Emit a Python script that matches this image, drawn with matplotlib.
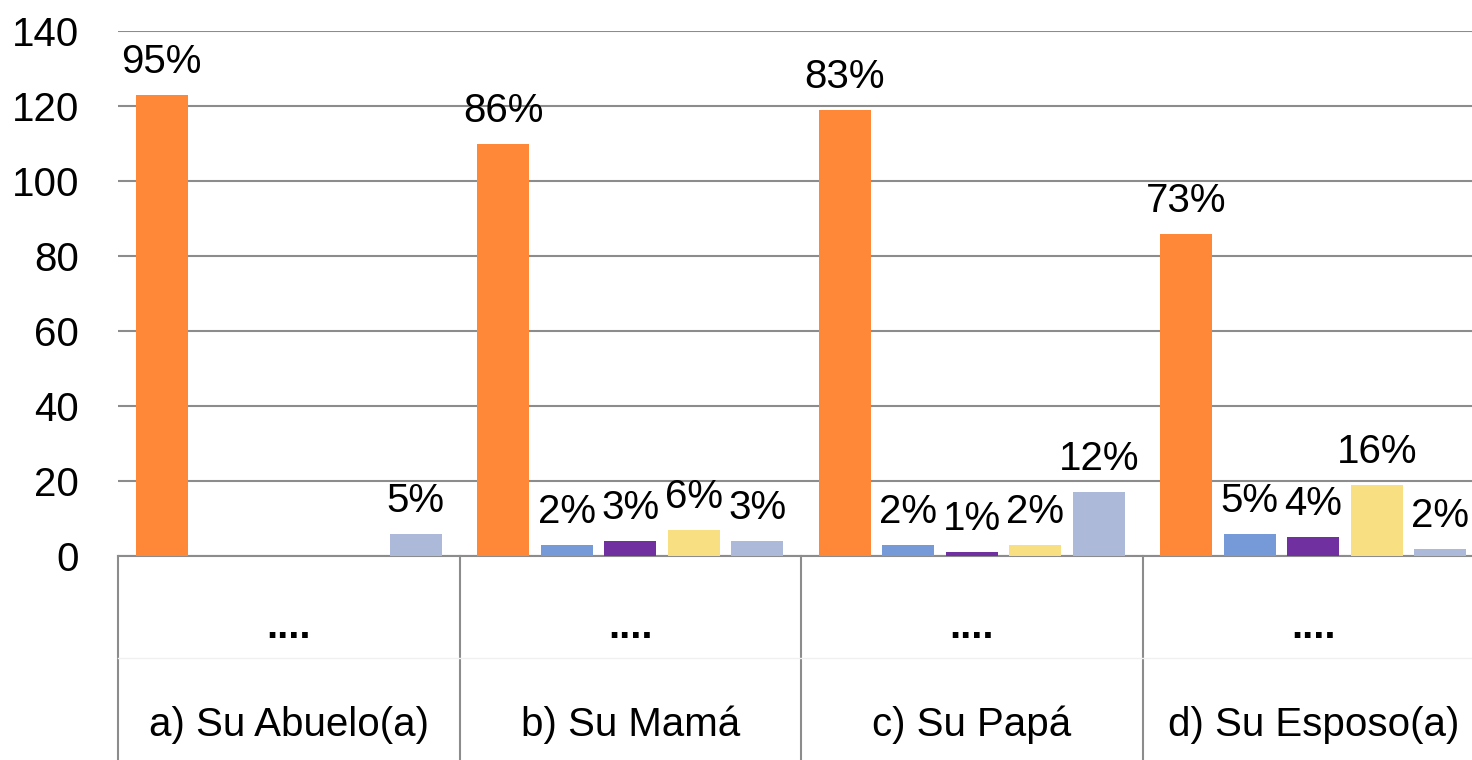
import numpy as np
import matplotlib
matplotlib.use('Agg')
import matplotlib.pyplot as plt

plt.rcParams['font.family'] = ['Liberation Sans', 'DejaVu Sans']

# data: counts per group and the printed percentage labels
groups = ['a) Su Abuelo(a)', 'b) Su Mamá', 'c) Su Papá', 'd) Su Esposo(a)']
sublabel = '....'
s_orange = [123, 110, 119, 86]
s_blue = [0, 3, 3, 6]
s_purple = [0, 4, 1, 5]
s_yellow = [0, 7, 3, 19]
s_grey = [6, 4, 17, 2]
pct_orange = ['95%', '86%', '83%', '73%']
pct_blue = ['', '2%', '2%', '5%']
pct_purple = ['', '3%', '1%', '4%']
pct_yellow = ['', '6%', '2%', '16%']
pct_grey = ['5%', '3%', '12%', '2%']

series = [s_orange, s_blue, s_purple, s_yellow, s_grey]
labels = [pct_orange, pct_blue, pct_purple, pct_yellow, pct_grey]
colors = ['#FF8838', '#7699D8', '#7030A0', '#F8DF82', '#ADB9D8']
FS = 29

fig = plt.figure(figsize=(14.72, 7.6), dpi=100)
ax = fig.add_axes([118/1472, 204/760, 1366/1472, 525/760])

x = np.arange(len(groups))
step, width = 0.186, 0.152
for k, (vals, labs, c) in enumerate(zip(series, labels, colors)):
    pos = x + (k - 2) * step
    bars = ax.bar(pos, vals, width=width, color=c, zorder=3)
    for b, v, t in zip(bars, vals, labs):
        if t:
            ax.annotate(t, (b.get_x() + b.get_width() / 2, v), xytext=(0, 10),
                        textcoords='offset points', ha='center', va='bottom',
                        fontsize=FS, color='black', zorder=4)

ax.set_xlim(-0.5, 3.5)
ax.set_ylim(0, 140)
ax.set_yticks(range(0, 141, 20))
ax.yaxis.grid(True, color='#8c8c8c', linewidth=1.5, zorder=0)
ax.set_axisbelow(True)
for s in ['left', 'right', 'top']:
    ax.spines[s].set_visible(False)
ax.spines['bottom'].set_color('#8c8c8c')
ax.spines['bottom'].set_linewidth(1.5)
ax.tick_params(axis='y', length=0, pad=28, labelsize=FS)
ax.tick_params(axis='x', length=0)
ax.set_xticks([])

# two-level category table under the axis
trans = ax.get_xaxis_transform()
for xb in np.arange(-0.5, 4.0, 1.0):
    ax.plot([xb, xb], [0, -0.45], transform=trans, color='#8c8c8c', lw=1.5, clip_on=False)
ax.plot([-0.5, 3.5], [-0.195, -0.195], transform=trans, color='#f0f0f0', lw=1, clip_on=False)
for xi, g in zip(x, groups):
    ax.text(xi, -0.135, sublabel, transform=trans, ha='center', va='center',
            fontsize=FS, fontweight='bold')
    ax.text(xi, -0.322, g, transform=trans, ha='center', va='center', fontsize=FS)

fig.savefig('out.png', dpi=100)
